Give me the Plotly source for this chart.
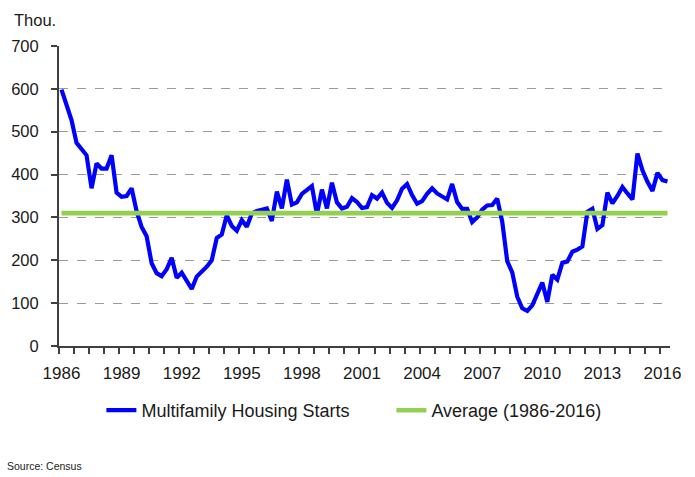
import plotly.graph_objects as go

# Quarterly multifamily housing starts (thousands, SAAR), 1986Q1 onward
first_year = 1986
starts = [
    598, 562, 527, 474, 461, 445, 368, 426, 414, 414, 445, 358,
    348, 350, 368, 314, 278, 256, 193, 170, 163, 179, 206, 159,
    171, 151, 133, 162, 172, 185, 200, 252, 260, 305, 280, 269,
    294, 278, 309, 315, 318, 321, 292, 360, 321, 388, 330, 335,
    355, 364, 373, 307, 365, 321, 381, 335, 321, 325, 345, 336,
    322, 324, 352, 344, 358, 334, 322, 340, 367, 378, 352, 332,
    338, 355, 368, 356, 350, 342, 378, 336, 320, 320, 289, 300,
    318, 328, 329, 344, 290, 198, 172, 115, 88, 82, 95, 120,
    148, 103, 166, 155, 194, 197, 220, 225, 232, 313, 320, 273,
    282, 358, 333, 350, 371, 356, 342, 449, 410, 383, 362, 404,
    387, 384,
]
average_1986_2016 = 310

quarters = [first_year + i / 4 for i in range(len(starts))]

FONT = "Liberation Sans, Arial, sans-serif"
TEXT = "#1a1a1a"
AXIS = "#404040"

fig = go.Figure()
fig.add_trace(go.Scatter(
    x=quarters, y=starts, mode="lines", name="Multifamily Housing Starts",
    line=dict(color="#0000ff", width=4.2),
))
fig.add_trace(go.Scatter(
    x=quarters, y=[average_1986_2016] * len(quarters), mode="lines",
    name="Average (1986-2016)",
    line=dict(color="#92d050", width=4.6),
))

fig.update_layout(
    width=695, height=477,
    margin=dict(l=59, r=25, t=46, b=131, autoexpand=False),
    paper_bgcolor="white", plot_bgcolor="white",
    font=dict(family=FONT, size=17, color=TEXT),
    showlegend=True,
    legend=dict(
        orientation="h", x=0.544, xanchor="center", y=-0.215, yanchor="middle",
        font=dict(size=18), itemwidth=30, tracegroupgap=0,
        entrywidth=245, entrywidthmode="pixels",
    ),
    annotations=[
        dict(text="Thou.", xref="paper", yref="paper", x=-0.002, y=1.087,
             xanchor="right", yanchor="middle", showarrow=False,
             font=dict(size=16.5, color=TEXT)),
        dict(text="Source: Census", xref="paper", yref="paper", x=-0.088, y=-0.4,
             xanchor="left", yanchor="middle", showarrow=False,
             font=dict(size=10.5, color=TEXT)),
    ],
)

fig.update_xaxes(
    range=[first_year - 0.125, first_year + (len(starts) - 0.5) / 4],
    tickmode="linear", tick0=1986, dtick=3, tickformat="d",
    ticks="", ticklabelstandoff=11,
    showline=True, linecolor=AXIS, linewidth=2,
    showgrid=False, zeroline=False,
    minor=dict(ticks="outside", tick0=first_year - 0.125, dtick=0.75,
               ticklen=6, tickwidth=1.5, tickcolor=AXIS, showgrid=False),
    tickfont=dict(size=17, color=TEXT),
)
fig.update_yaxes(
    range=[0, 700], tickmode="linear", tick0=0, dtick=100,
    ticks="outside", ticklen=6, tickwidth=1.5, tickcolor=AXIS,
    showline=True, linecolor=AXIS, linewidth=2,
    showgrid=True, gridcolor="#9a9a9a", gridwidth=1, griddash="dash",
    zeroline=False, ticklabelstandoff=9,
    tickfont=dict(size=16.5, color=TEXT),
)

fig.write_html("out.html")
